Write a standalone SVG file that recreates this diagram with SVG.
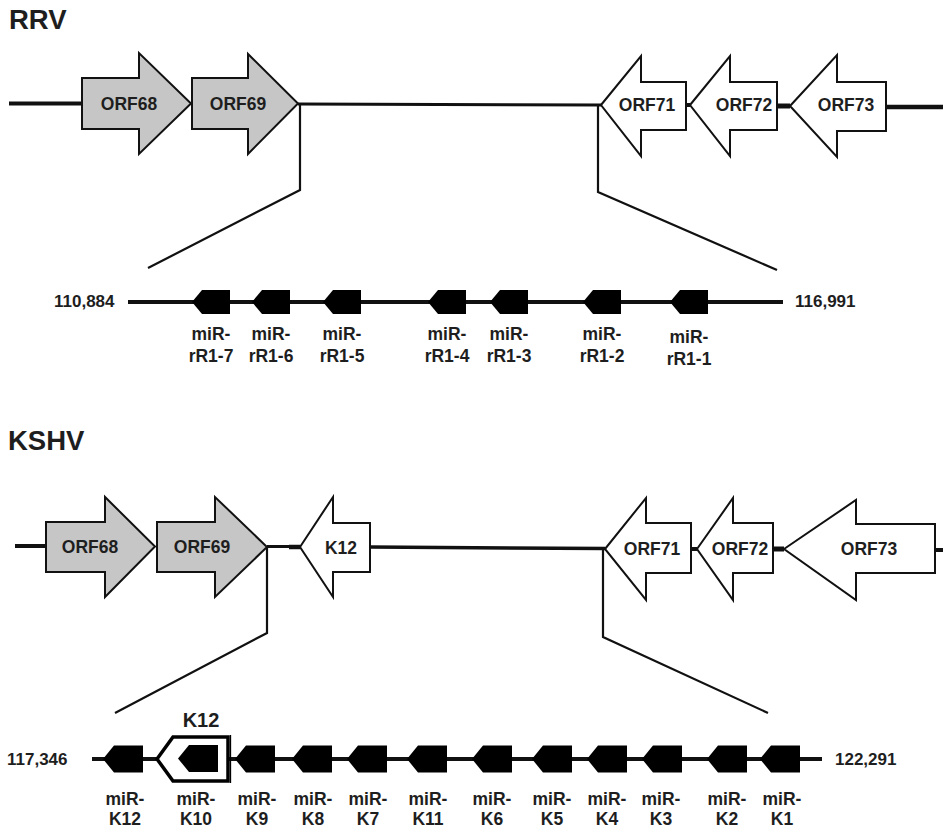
<svg xmlns="http://www.w3.org/2000/svg" xmlns:xlink="http://www.w3.org/1999/xlink" width="943" height="832" viewBox="0 0 943 832">
<style>
text{font-family:"Liberation Sans",Arial,sans-serif;font-weight:bold;fill:#1e1e1e}
.title{font-size:27.5px}
.orf{font-size:17.5px;text-anchor:middle}
.lab{font-size:17.5px;text-anchor:middle}
.num{font-size:17px}
.fwd{fill:#c6c6c6;stroke:#111;stroke-width:2;stroke-linejoin:miter}
.rev{fill:#fff;stroke:#111;stroke-width:2;stroke-linejoin:miter}
.bb{stroke:#111;fill:none}
.zl{stroke:#111;stroke-width:2.2;fill:none;stroke-linejoin:miter}
.mir{fill:#000}
</style>
<defs>
<path id="mirA" d="M0,0 L10,-12 L38,-12 L38,12 L10,12 Z"/>
<path id="mirB" d="M0,0 L11,-13.5 L40,-13.5 L40,13.5 L11,13.5 Z"/>
</defs>
<rect width="943" height="832" fill="#fff"/>
<text class="title" x="9" y="29">RRV</text>
<text class="title" x="8" y="450">KSHV</text>
<g id="connectors">
<line class="bb" x1="9" y1="103.5" x2="83" y2="103.5" stroke-width="4"/>
<line class="bb" x1="298" y1="104" x2="601" y2="105" stroke-width="3"/>
<line class="bb" x1="686" y1="105" x2="690" y2="105" stroke-width="4"/>
<line class="bb" x1="777" y1="106" x2="790" y2="106" stroke-width="5"/>
<line class="bb" x1="886" y1="107" x2="943" y2="107" stroke-width="4.5"/>
<polyline class="zl" points="300,104 300,190 148,268"/>
<polyline class="zl" points="598,105 598,192 777,270"/>
<line class="bb" x1="128" y1="302" x2="783" y2="302" stroke-width="4"/>
<line class="bb" x1="15" y1="546" x2="47" y2="546" stroke-width="4"/>
<line class="bb" x1="267" y1="546.5" x2="290" y2="546.5" stroke-width="3"/>
<line class="bb" x1="289" y1="547" x2="300" y2="547" stroke-width="4.5"/>
<line class="bb" x1="370" y1="547" x2="605" y2="548.5" stroke-width="3.5"/>
<line class="bb" x1="691" y1="549" x2="697" y2="549" stroke-width="4"/>
<line class="bb" x1="773" y1="549" x2="784" y2="549" stroke-width="5"/>
<line class="bb" x1="935" y1="550" x2="943" y2="550" stroke-width="4"/>
<polyline class="zl" points="267,547 267,633 115,713"/>
<polyline class="zl" points="603,549 603,637 768,713"/>
<line class="bb" x1="92" y1="759" x2="822" y2="759" stroke-width="4"/>
</g>
<g id="rrv-ORF68"><polygon class="fwd" points="82,78 139,78 139,53 191,103.5 139,154 139,129 82,129"/><text class="orf" x="129" y="110">ORF68</text></g>
<g id="rrv-ORF69"><polygon class="fwd" points="192,78 248,78 248,54 298,103.5 248,154 248,129 192,129"/><text class="orf" x="238" y="110">ORF69</text></g>
<g id="rrv-ORF71"><polygon class="rev" points="601,105 641,56 641,82 686,82 686,130 641,130 641,156"/><text class="orf" x="647" y="111">ORF71</text></g>
<g id="rrv-ORF72"><polygon class="rev" points="690,105 730,56 730,82 777,82 777,130 730,130 730,156"/><text class="orf" x="744" y="111">ORF72</text></g>
<g id="rrv-ORF73"><polygon class="rev" points="790,106 837,55 837,82 886,82 886,131 837,131 837,157"/><text class="orf" x="846" y="111">ORF73</text></g>
<g id="rrv-start"><text class="num" x="54" y="307">110,884</text></g>
<g id="rrv-end"><text class="num" x="795" y="307">116,991</text></g>
<g id="miR-rR1-7"><use href="#mirA" class="mir" x="192" y="302"/><text class="lab" x="211" y="340">miR-</text><text class="lab" x="211" y="362">rR1-7</text></g>
<g id="miR-rR1-6"><use href="#mirA" class="mir" x="252" y="302"/><text class="lab" x="271" y="340">miR-</text><text class="lab" x="271" y="362">rR1-6</text></g>
<g id="miR-rR1-5"><use href="#mirA" class="mir" x="323" y="302"/><text class="lab" x="342" y="340">miR-</text><text class="lab" x="342" y="362">rR1-5</text></g>
<g id="miR-rR1-4"><use href="#mirA" class="mir" x="428" y="302"/><text class="lab" x="447" y="340">miR-</text><text class="lab" x="447" y="362">rR1-4</text></g>
<g id="miR-rR1-3"><use href="#mirA" class="mir" x="490" y="302"/><text class="lab" x="509" y="340">miR-</text><text class="lab" x="509" y="362">rR1-3</text></g>
<g id="miR-rR1-2"><use href="#mirA" class="mir" x="583" y="302"/><text class="lab" x="602" y="340">miR-</text><text class="lab" x="602" y="362">rR1-2</text></g>
<g id="miR-rR1-1"><use href="#mirA" class="mir" x="670" y="302"/><text class="lab" x="689" y="343">miR-</text><text class="lab" x="689" y="365">rR1-1</text></g>
<g id="kshv-ORF68"><polygon class="fwd" points="46,522 105,522 105,497 155,546.5 105,597 105,572 46,572"/><text class="orf" x="90" y="553">ORF68</text></g>
<g id="kshv-ORF69"><polygon class="fwd" points="157,522 215,522 215,497 267,547 215,597 215,572 157,572"/><text class="orf" x="202" y="553">ORF69</text></g>
<g id="kshv-K12"><polygon class="rev" points="300,547 333,497 333,523 370,523 370,572 333,572 333,597"/><text class="orf" x="341" y="554">K12</text></g>
<g id="kshv-ORF71"><polygon class="rev" points="605,549 646,498 646,523 691,523 691,573 646,573 646,600"/><text class="orf" x="652" y="555">ORF71</text></g>
<g id="kshv-ORF72"><polygon class="rev" points="697,549 733,498 733,523 773,523 773,573 733,573 733,600"/><text class="orf" x="740" y="555">ORF72</text></g>
<g id="kshv-ORF73"><polygon class="rev" points="784,549 856,500 856,524 935,524 935,573 856,573 856,600"/><text class="orf" x="869" y="555">ORF73</text></g>
<g id="kshv-start"><text class="num" x="7" y="765">117,346</text></g>
<g id="kshv-end"><text class="num" x="835" y="765">122,291</text></g>
<g id="K12-gene"><polygon points="157,759 173,737 228,737 228,781 173,781" fill="#fff" stroke="#000" stroke-width="3.5"/><line x1="230.5" y1="735" x2="230.5" y2="783" stroke="#000" stroke-width="1.3"/><text x="201" y="727" style="font-size:20px;text-anchor:middle">K12</text></g>
<g id="miR-K12"><use href="#mirB" class="mir" x="103" y="759"/><text class="lab" x="125" y="805">miR-</text><text class="lab" x="125" y="825">K12</text></g>
<g id="miR-K10"><use href="#mirB" class="mir" x="178" y="758.5"/><text class="lab" x="196" y="805">miR-</text><text class="lab" x="196" y="825">K10</text></g>
<g id="miR-K9"><use href="#mirB" class="mir" x="235" y="759"/><text class="lab" x="257" y="805">miR-</text><text class="lab" x="257" y="825">K9</text></g>
<g id="miR-K8"><use href="#mirB" class="mir" x="292" y="759"/><text class="lab" x="313" y="805">miR-</text><text class="lab" x="313" y="825">K8</text></g>
<g id="miR-K7"><use href="#mirB" class="mir" x="347" y="759"/><text class="lab" x="368" y="805">miR-</text><text class="lab" x="368" y="825">K7</text></g>
<g id="miR-K11"><use href="#mirB" class="mir" x="407" y="759"/><text class="lab" x="428" y="805">miR-</text><text class="lab" x="428" y="825">K11</text></g>
<g id="miR-K6"><use href="#mirB" class="mir" x="472" y="759"/><text class="lab" x="492" y="805">miR-</text><text class="lab" x="492" y="825">K6</text></g>
<g id="miR-K5"><use href="#mirB" class="mir" x="532" y="759"/><text class="lab" x="552" y="805">miR-</text><text class="lab" x="552" y="825">K5</text></g>
<g id="miR-K4"><use href="#mirB" class="mir" x="587" y="759"/><text class="lab" x="607" y="805">miR-</text><text class="lab" x="607" y="825">K4</text></g>
<g id="miR-K3"><use href="#mirB" class="mir" x="642" y="759"/><text class="lab" x="661" y="805">miR-</text><text class="lab" x="661" y="825">K3</text></g>
<g id="miR-K2"><use href="#mirB" class="mir" x="707" y="759"/><text class="lab" x="727" y="805">miR-</text><text class="lab" x="727" y="825">K2</text></g>
<g id="miR-K1"><use href="#mirB" class="mir" x="760" y="759"/><text class="lab" x="782" y="805">miR-</text><text class="lab" x="782" y="825">K1</text></g>
</svg>
